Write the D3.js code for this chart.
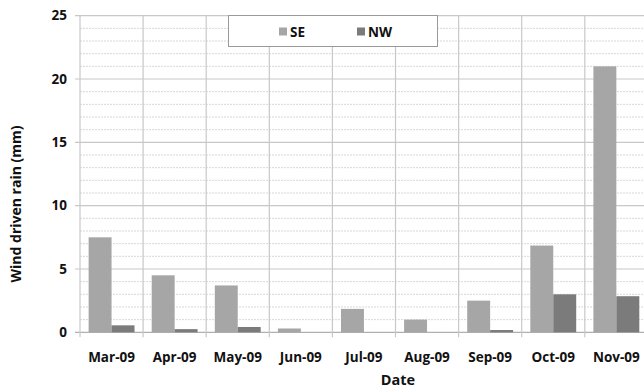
<!DOCTYPE html>
<html><head><meta charset="utf-8">
<script src="https://cdn.jsdelivr.net/npm/d3@7"></script>
<style>body{margin:0;background:#fff}svg{display:block}text{font-family:"Open Sans",sans-serif;font-weight:bold;fill:#111}</style>
</head><body><svg id="c" width="644" height="389"></svg>
<script>
const categories = ["Mar-09","Apr-09","May-09","Jun-09","Jul-09","Aug-09","Sep-09","Oct-09","Nov-09"];
const seriesNames = ["SE","NW"];
const seValues = [7.5,4.5,3.7,0.3,1.85,1.0,2.5,6.85,21.0];
const nwValues = [0.55,0.25,0.42,0,0,0,0.18,3.0,2.85];
const yTicks = [0,5,10,15,20,25];
const colors = {SE:"#a6a6a6", NW:"#7b7b7b"};

const svg = d3.select("#c");
const L = 80, T = 15.7, B = 332.3, catW = 63.1;
const R = L + catW*categories.length;
const x = d3.scaleBand().domain(categories).range([L,R]).paddingInner(0).paddingOuter(0);
const y = d3.scaleLinear().domain([0,25]).range([B,T]);
const xs = d3.scaleBand().domain(seriesNames).range([0,x.bandwidth()]).paddingInner(0).paddingOuter(0.375);

const g = svg.append("g");
g.selectAll("line.minor").data(d3.range(0,25.01,1).filter(v=>v%5!==0)).join("line")
 .attr("x1",L).attr("x2",644).attr("y1",d=>y(d)).attr("y2",d=>y(d))
 .attr("stroke","#d8d8d8").attr("stroke-width",1).attr("stroke-dasharray","2,1");
g.selectAll("line.major").data(yTicks).join("line")
 .attr("x1",L-5).attr("x2",644).attr("y1",d=>y(d)).attr("y2",d=>y(d))
 .attr("stroke",d=>d===0?"#b0b0b0":"#c8c8c8").attr("stroke-width",1.2);
g.selectAll("line.v").data(d3.range(0,categories.length+1)).join("line")
 .attr("x1",i=>L+i*catW).attr("x2",i=>L+i*catW).attr("y1",T).attr("y2",B+5)
 .attr("stroke","#c8c8c8").attr("stroke-width",1.2);

const data = categories.map((c,i)=>({c, SE:seValues[i], NW:nwValues[i]}));
const grp = g.selectAll("g.cat").data(data).join("g").attr("transform",d=>`translate(${x(d.c)},0)`);
grp.selectAll("rect").data(d=>seriesNames.map(s=>({s,v:d[s]}))).join("rect")
 .attr("x",d=>xs(d.s)).attr("width",xs.bandwidth())
 .attr("y",d=>y(d.v)).attr("height",d=>B-y(d.v)).attr("fill",d=>colors[d.s]);

svg.selectAll("text.yt").data(yTicks).join("text")
 .attr("x",67).attr("y",d=>y(d)).attr("dy","0.35em").attr("text-anchor","end")
 .style("font-size","13.5px").text(d=>d);
svg.selectAll("text.xt").data(categories).join("text")
 .attr("x",d=>x(d)+catW/2).attr("y",357).attr("dy","0.35em").attr("text-anchor","middle")
 .style("font-size","13.5px").text(d=>d);
svg.append("text").attr("x",398).attr("y",379.5).attr("dy","0.35em").attr("text-anchor","middle")
 .style("font-size","14.5px").text("Date");
svg.append("text").attr("transform","translate(16,204) rotate(-90)").attr("dy","0.35em")
 .attr("text-anchor","middle").style("font-size","14px").text("Wind driven rain (mm)");

const lg = svg.append("g");
lg.append("rect").attr("x",228.5).attr("y",15.5).attr("width",209).attr("height",31)
 .attr("fill","#fff").attr("stroke","#9a9a9a").attr("stroke-width",1);
const lx = {SE:279, NW:357};
seriesNames.forEach(s=>{
  lg.append("rect").attr("x",lx[s]).attr("y",27.5).attr("width",8).attr("height",8).attr("fill",colors[s]);
  lg.append("text").attr("x",lx[s]+11).attr("y",32).attr("dy","0.35em").style("font-size","13.5px").text(s);
});
</script></body></html>
